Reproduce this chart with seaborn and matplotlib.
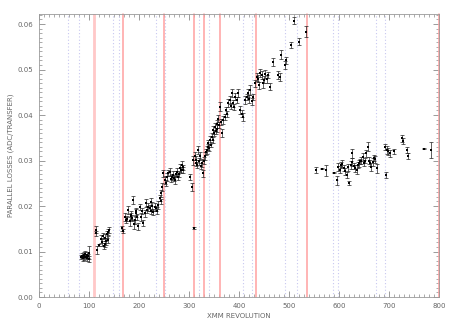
import numpy as np
import pandas as pd
import matplotlib
matplotlib.use('Agg')
import matplotlib.pyplot as plt
from matplotlib.ticker import MultipleLocator, FormatStrFormatter
import seaborn as sns

# XMM revolution, parallel losses and their errors
rev = [85, 87, 88, 90, 91, 93, 94, 96, 97, 99, 100, 101,
       114, 115, 116, 120, 124, 126, 128, 130, 132, 133, 135, 136, 138, 139, 141,
       166, 168,
       172, 175, 177, 179, 182, 184, 185, 187, 189, 190, 192, 194, 195, 197, 199,
       202, 205, 207, 209, 212, 215, 217, 219, 222, 224, 225, 227, 229, 232, 235,
       237, 239, 242, 244, 245, 246,
       249, 252, 254, 256, 259, 262, 264, 266, 269, 271, 272, 274, 276, 279, 280,
       282, 284, 286, 288, 289,
       302, 306, 309, 311, 312, 314, 315, 317, 319, 320, 322, 324, 326, 329, 330, 332,
       334, 336, 338, 339, 341, 342, 344, 346, 348, 349, 351, 352, 354, 356, 357,
       359, 360, 362, 364, 366, 369, 372, 375, 377, 379, 382, 384, 386, 389, 391,
       393, 396, 399, 402, 406, 409, 413, 416, 419, 421, 423, 426, 429,
       433, 436, 439, 441, 443, 446, 449, 451, 453, 456, 459, 463, 469, 479, 482,
       485, 493, 495, 505, 511, 520, 535,
       555, 566, 575, 590, 596, 599, 602, 605, 607, 610, 613, 616, 619, 621, 624,
       626, 627, 630, 632, 636, 638, 640, 643, 645, 648, 651, 653, 655, 658, 661,
       663, 665, 668, 670, 672, 676, 693, 695, 696, 699, 703, 711, 727, 729, 737,
       739, 770, 784]

loss = [0.0088, 0.0091, 0.0085, 0.0093, 0.0087, 0.0095, 0.0089, 0.0092, 0.0086, 0.0090, 0.0084, 0.0097,
        0.0148, 0.0140, 0.0104, 0.0114, 0.0127, 0.0121, 0.0134, 0.0112, 0.0116, 0.0130, 0.0122, 0.0138, 0.0126, 0.0143, 0.0147,
        0.0151, 0.0145,
        0.0176, 0.0169, 0.0172, 0.0191, 0.0166, 0.0178, 0.0180, 0.0174, 0.0213, 0.0160, 0.0169, 0.0188, 0.0184, 0.0176, 0.0155,
        0.0198, 0.0176, 0.0189, 0.0162, 0.0184, 0.0206, 0.0192, 0.0198, 0.0195, 0.0188, 0.0209, 0.0200, 0.0187, 0.0198, 0.0195,
        0.0190, 0.0202, 0.0217, 0.0210, 0.0228, 0.0242,
        0.0272, 0.0257, 0.0250, 0.0264, 0.0272, 0.0275, 0.0260, 0.0264, 0.0268, 0.0262, 0.0257, 0.0270, 0.0275, 0.0264, 0.0270,
        0.0283, 0.0279, 0.0290, 0.0285, 0.0279,
        0.0264, 0.0242, 0.0301, 0.0152, 0.0310, 0.0295, 0.0302, 0.0290, 0.0323, 0.0298, 0.0310, 0.0288, 0.0294, 0.0272, 0.0300, 0.0310,
        0.0318, 0.0323, 0.0330, 0.0338, 0.0328, 0.0345, 0.0335, 0.0352, 0.0345, 0.0367, 0.0360, 0.0374, 0.0365, 0.0380, 0.0370,
        0.0392, 0.0378, 0.0418, 0.0385, 0.0360, 0.0389, 0.0396, 0.0410, 0.0402, 0.0426, 0.0433, 0.0420, 0.0448, 0.0426, 0.0418,
        0.0440, 0.0433, 0.0448, 0.0411, 0.0403, 0.0396, 0.0433, 0.0440, 0.0448, 0.0435, 0.0455, 0.0430, 0.0440,
        0.0470, 0.0484, 0.0480, 0.0465, 0.0492, 0.0488, 0.0470, 0.0478, 0.0490, 0.0480, 0.0488, 0.0462, 0.0517, 0.0488, 0.0484,
        0.0532, 0.0510, 0.0520, 0.0554, 0.0607, 0.0561, 0.0583,
        0.0279, 0.0282, 0.0279, 0.0273, 0.0257, 0.0286, 0.0280, 0.0290, 0.0293, 0.0283, 0.0276, 0.0268, 0.0285, 0.0251, 0.0290,
        0.0297, 0.0316, 0.0288, 0.0283, 0.0280, 0.0290, 0.0294, 0.0298, 0.0300, 0.0308, 0.0294, 0.0300, 0.0316, 0.0330, 0.0300,
        0.0295, 0.0286, 0.0296, 0.0305, 0.0303, 0.0283, 0.0330, 0.0268, 0.0323, 0.0320, 0.0316, 0.0320, 0.0349, 0.0343, 0.0323,
        0.0310, 0.0326, 0.0323]

loss_err = [0.0005, 0.0006, 0.0005, 0.0007, 0.0006, 0.0006, 0.0005, 0.0007, 0.0006, 0.0005, 0.0006, 0.0014,
            0.0008, 0.0006, 0.0009, 0.0003, 0.0009, 0.0008, 0.0007, 0.0006, 0.0006, 0.0008, 0.0007, 0.0008, 0.0008, 0.0007, 0.0006,
            0.0006, 0.0004,
            0.0008, 0.0007, 0.0006, 0.0008, 0.0009, 0.0006, 0.0010, 0.0007, 0.0008, 0.0010, 0.0008, 0.0007, 0.0009, 0.0006, 0.0008,
            0.0007, 0.0008, 0.0006, 0.0007, 0.0008, 0.0009, 0.0007, 0.0008, 0.0007, 0.0006, 0.0009, 0.0008, 0.0007, 0.0008, 0.0006,
            0.0007, 0.0008, 0.0007, 0.0006, 0.0008, 0.0009,
            0.0008, 0.0009, 0.0007, 0.0008, 0.0007, 0.0009, 0.0008, 0.0007, 0.0008, 0.0006, 0.0009, 0.0007, 0.0008, 0.0007, 0.0006,
            0.0009, 0.0007, 0.0008, 0.0006, 0.0007,
            0.0007, 0.0008, 0.0010, 0.0002, 0.0008, 0.0007, 0.0007, 0.0006, 0.0008, 0.0007, 0.0008, 0.0007, 0.0009, 0.0008, 0.0007, 0.0008,
            0.0007, 0.0008, 0.0006, 0.0008, 0.0007, 0.0009, 0.0006, 0.0008, 0.0007, 0.0008, 0.0007, 0.0009, 0.0006, 0.0008, 0.0007,
            0.0008, 0.0007, 0.0010, 0.0007, 0.0009, 0.0008, 0.0007, 0.0008, 0.0006, 0.0009, 0.0008, 0.0007, 0.0009, 0.0008, 0.0006,
            0.0008, 0.0007, 0.0009, 0.0008, 0.0007, 0.0009, 0.0008, 0.0007, 0.0009, 0.0008, 0.0010, 0.0008, 0.0007,
            0.0008, 0.0009, 0.0007, 0.0008, 0.0009, 0.0008, 0.0010, 0.0007, 0.0008, 0.0009, 0.0007, 0.0008, 0.0009, 0.0008, 0.0009,
            0.0010, 0.0009, 0.0008, 0.0006, 0.0008, 0.0008, 0.0012,
            0.0007, 0.0001, 0.0012, 0.0001, 0.0010, 0.0008, 0.0007, 0.0006, 0.0008, 0.0007, 0.0008, 0.0006, 0.0007, 0.0004, 0.0008,
            0.0009, 0.0010, 0.0007, 0.0008, 0.0010, 0.0007, 0.0008, 0.0006, 0.0008, 0.0009, 0.0007, 0.0006, 0.0008, 0.0010, 0.0008,
            0.0007, 0.0008, 0.0009, 0.0007, 0.0008, 0.0010, 0.0007, 0.0007, 0.0008, 0.0007, 0.0008, 0.0006, 0.0008, 0.0007, 0.0006,
            0.0007, 0.0001, 0.0017]

red_lines = [110, 168, 250, 311, 331, 362, 435, 536, 800]
blue_lines = [58, 80, 148, 160, 234, 252, 320, 341, 409, 426, 493, 516, 588, 599, 674, 692]

sns.set_style('ticks')
plt.rcParams['font.family'] = ['DejaVu Sans']

df = pd.DataFrame({'rev': rev, 'loss': loss, 'err': loss_err})

fig = plt.figure(figsize=(4.52, 3.27), dpi=100)
ax = fig.add_axes([39/452, 30/327, 400/452, 283/327])

for x in blue_lines:
    ax.axvline(x, color='#c8c8f0', lw=0.8, ls=(0, (1, 2)), zorder=1)
for x in red_lines:
    if x == 110:
        ax.axvline(x, color='#ffc8c8', lw=2.0, zorder=2)
    else:
        ax.axvline(x, color='#ffa0a0', lw=1.1, zorder=2, clip_on=False)

ax.errorbar(df['rev'], df['loss'], yerr=df['err'], fmt='none', ecolor='#222222',
            elinewidth=0.5, capsize=1.1, capthick=0.5, zorder=3)
sns.scatterplot(data=df, x='rev', y='loss', color='black', s=2, marker='s',
                linewidth=0, ax=ax, zorder=4)

ax.set_xlim(0, 800)
ax.set_ylim(0, 0.0622)
ax.xaxis.set_major_locator(MultipleLocator(100))
ax.xaxis.set_minor_locator(MultipleLocator(10))
ax.yaxis.set_major_locator(MultipleLocator(0.01))
ax.yaxis.set_minor_locator(MultipleLocator(0.001))
ax.yaxis.set_major_formatter(FormatStrFormatter('%.2f'))

ax.tick_params(which='both', direction='in', top=True, right=True,
               colors='#8a8a8a', labelcolor='#666666', labelsize=5)
ax.tick_params(which='major', length=4, width=0.6, pad=4)
ax.tick_params(which='minor', length=2, width=0.5)
for s in ax.spines.values():
    s.set_color('#9a9a9a')
    s.set_linewidth(0.6)

ax.set_xlabel('XMM REVOLUTION', fontsize=5, color='#666666', labelpad=3)
ax.set_ylabel('PARALLEL LOSSES (ADC/TRANSFER)', fontsize=5, color='#666666', labelpad=3)

fig.savefig('out.png', dpi=100)
